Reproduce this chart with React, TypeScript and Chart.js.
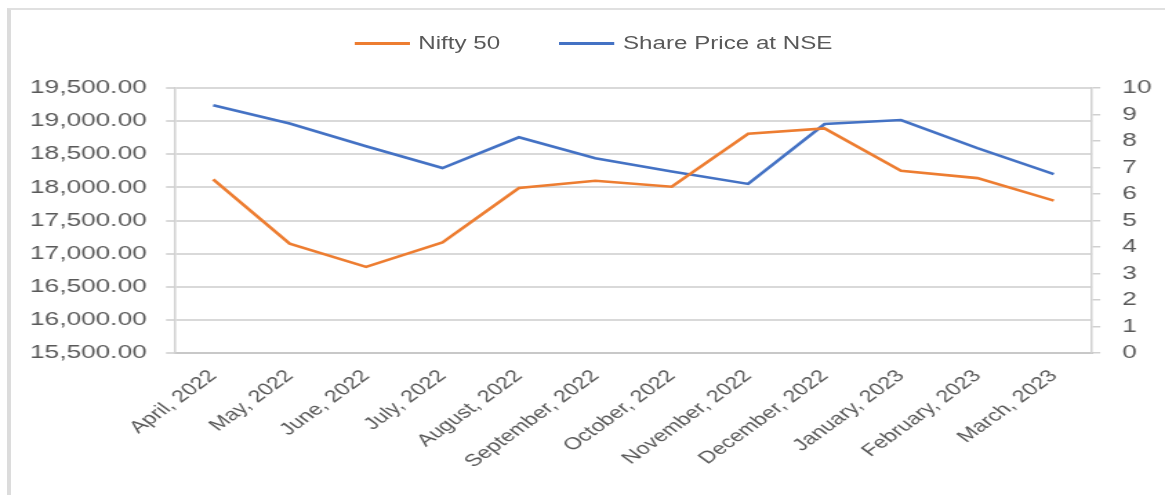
import React, { useEffect, useRef } from "react";
import { Chart, registerables } from "chart.js";

Chart.register(...registerables);

const months = [
  "April, 2022", "May, 2022", "June, 2022", "July, 2022", "August, 2022",
  "September, 2022", "October, 2022", "November, 2022", "December, 2022",
  "January, 2023", "February, 2023", "March, 2023",
];
const nifty50 = [18120, 17150, 16800, 17170, 17990, 18100, 18010, 18810, 18890, 18250, 18140, 17800];
const sharePrice = [9.35, 8.66, 7.8, 6.98, 8.14, 7.35, 6.85, 6.38, 8.64, 8.79, 7.73, 6.75];
const seriesNames = ["Nifty 50", "Share Price at NSE"];
const seriesColors = ["#ED7D31", "#4472C4"];
const leftMin = 15500, leftMax = 19500, leftStep = 500;
const rightMin = 0, rightMax = 10, rightStep = 1;

// The reference image is horizontally stretched; draw in a narrower logical canvas and stretch it.
const W = 1165, H = 495;
const SX = 1.38;
const LW = Math.round(W / SX);
const SCALE = W / LW;
const PLOT_LEFT = 175 / SCALE, PLOT_RIGHT = 1092 / SCALE, PLOT_BOTTOM = 353;
const PAD = { left: 10, right: 10, top: 88, bottom: 10 };
const FONT = "'Liberation Sans', Arial, sans-serif";

export default function App() {
  const ref = useRef<HTMLCanvasElement | null>(null);
  useEffect(() => {
    if (!ref.current) return;
    const tickFont = { family: FONT, size: 19 };
    const chart = new Chart(ref.current, {
      type: "line",
      data: {
        labels: months,
        datasets: [
          {
            label: seriesNames[0],
            data: nifty50,
            borderColor: seriesColors[0],
            backgroundColor: seriesColors[0],
            borderWidth: 2.6,
            pointRadius: 0,
            tension: 0,
            yAxisID: "y",
          },
          {
            label: seriesNames[1],
            data: sharePrice,
            borderColor: seriesColors[1],
            backgroundColor: seriesColors[1],
            borderWidth: 2.6,
            pointRadius: 0,
            tension: 0,
            yAxisID: "y1",
          },
        ],
      },
      options: {
        animation: false,
        responsive: false,
        devicePixelRatio: 1,
        layout: { padding: PAD },
        plugins: {
          legend: { display: false },
          tooltip: { enabled: false },
        },
        scales: {
          x: {
            offset: true,
            grid: { display: false, drawTicks: false },
            border: { display: true, color: "#c8c8c8", width: 2 },
            ticks: {
              color: "#595959",
              font: { family: FONT, size: 17 },
              maxRotation: 45,
              minRotation: 45,
              autoSkip: false,
              padding: 13,
            },
            afterFit(scale: any) {
              scale.height = H - PLOT_BOTTOM - PAD.bottom;
            },
          },
          y: {
            position: "left",
            min: leftMin,
            max: leftMax,
            grid: { color: "#d9d9d9", lineWidth: 2, tickLength: 6.5, drawTicks: true },
            border: { display: true, color: "#d0d0d0", width: 1.5 },
            ticks: {
              stepSize: leftStep,
              color: "#595959",
              font: tickFont,
              padding: 14,
              callback: (v: any) =>
                Number(v).toLocaleString("en-US", { minimumFractionDigits: 2, maximumFractionDigits: 2 }),
            },
            afterFit(scale: any) {
              scale.width = PLOT_LEFT - PAD.left;
            },
          },
          y1: {
            position: "right",
            min: rightMin,
            max: rightMax,
            grid: { drawOnChartArea: false, color: "#d0d0d0", lineWidth: 1.5, tickLength: 6 },
            border: { display: true, color: "#d0d0d0", width: 1.5 },
            ticks: { stepSize: rightStep, color: "#595959", font: tickFont, padding: 16 },
            afterFit(scale: any) {
              scale.width = LW - PLOT_RIGHT - PAD.right;
            },
          },
        },
      },
    } as any);
    return () => chart.destroy();
  }, []);

  const legendItem = (i: number) => (
    <div key={i} style={{ display: "flex", alignItems: "center", marginRight: i === 0 ? 43 : 0 }}>
      <span style={{ display: "inline-block", width: 40, height: 3, background: seriesColors[i], marginRight: 6 }} />
      <span style={{ fontFamily: FONT, fontSize: 17.5, color: "#595959", whiteSpace: "nowrap" }}>{seriesNames[i]}</span>
    </div>
  );

  return (
    <div style={{ position: "absolute", left: 0, top: 0, width: W, height: H, background: "#fff", overflow: "hidden" }}>
      <div style={{ position: "absolute", left: 7, top: 8, width: W - 7, height: H - 8, borderLeft: "4px solid #dcdcdc", borderTop: "2px solid #e0e0e0", boxSizing: "border-box" }} />
      <div style={{ position: "absolute", left: 0, top: 0, width: LW, height: H, transform: `scaleX(${SCALE})`, transformOrigin: "0 0" }}>
        <div style={{ position: "absolute", left: 257, top: 32, height: 22, display: "flex", alignItems: "center" }}>
          {legendItem(0)}
          {legendItem(1)}
        </div>
        <canvas ref={ref} width={LW} height={H} style={{ position: "absolute", left: 0, top: 0, width: LW, height: H }} />
      </div>
    </div>
  );
}
